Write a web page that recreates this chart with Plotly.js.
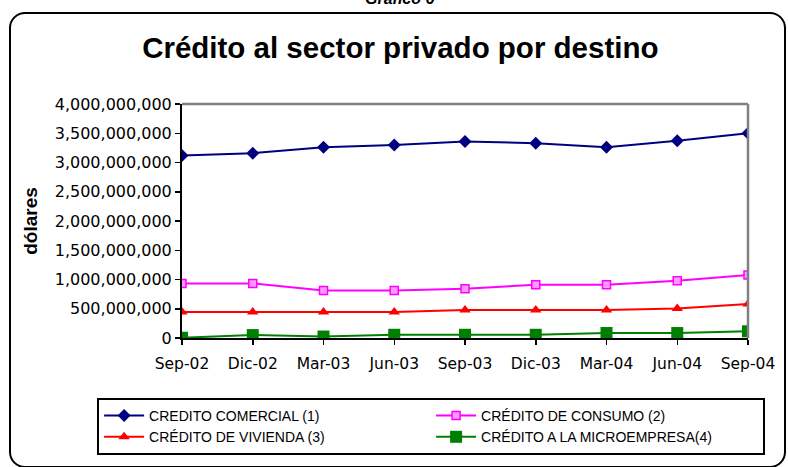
<!DOCTYPE html>
<html>
<head>
<meta charset="utf-8">
<script src="https://cdn.plot.ly/plotly-3.0.1.min.js"></script>
<style>
  html, body { margin: 0; padding: 0; background: #fff; overflow: hidden; }
  #wrap { position: relative; width: 788px; height: 467px; overflow: hidden; }
  #chart { width: 788px; height: 467px; }
  #frame { position: absolute; left: 9px; top: 12px; width: 777px; height: 456px;
           border: 2.5px solid #000; border-radius: 16px; box-sizing: border-box; pointer-events: none; }
</style>
</head>
<body>
<div id="wrap">
  <div id="chart"></div>
  <div id="frame"></div>
</div>
<script>
const categories = ["Sep-02","Dic-02","Mar-03","Jun-03","Sep-03","Dic-03","Mar-04","Jun-04","Sep-04"];
const comercial   = [3120000000, 3160000000, 3260000000, 3300000000, 3360000000, 3330000000, 3260000000, 3370000000, 3500000000];
const consumo     = [933000000, 933000000, 814000000, 814000000, 843000000, 911000000, 911000000, 979000000, 1077000000];
const vivienda    = [444000000, 444000000, 444000000, 444000000, 479000000, 479000000, 479000000, 506000000, 581000000];
const microempresa= [5000000, 50000000, 25000000, 55000000, 55000000, 55000000, 85000000, 85000000, 115000000];
const seriesNames = ["CREDITO COMERCIAL (1)", "CRÉDITO DE CONSUMO (2)", "CRÉDITO DE VIVIENDA (3)", "CRÉDITO A LA MICROEMPRESA(4)"];
const yTickVals = [0, 500000000, 1000000000, 1500000000, 2000000000, 2500000000, 3000000000, 3500000000, 4000000000];

const idx = categories.map((c, i) => i);

const traces = [
  { x: idx, y: comercial, name: seriesNames[0], type: "scatter", mode: "lines+markers",
    line: { color: "#000080", width: 2 }, marker: { symbol: "diamond", size: 10, color: "#000080" } },
  { x: idx, y: consumo, name: seriesNames[1], type: "scatter", mode: "lines+markers",
    line: { color: "#ff00ff", width: 2 }, marker: { symbol: "square", size: 8, color: "#ff99ff", line: { color: "#ff00ff", width: 1.5 } } },
  { x: idx, y: vivienda, name: seriesNames[2], type: "scatter", mode: "lines+markers",
    line: { color: "#ff0000", width: 2 }, marker: { symbol: "triangle-up", size: 10, color: "#ff0000" } },
  { x: idx, y: microempresa, name: seriesNames[3], type: "scatter", mode: "lines+markers",
    line: { color: "#008000", width: 2 }, marker: { symbol: "square", size: 12, color: "#008000" } }
];

const layout = {
  width: 788, height: 467,
  margin: { l: 182, r: 40, t: 104, b: 129 },
  paper_bgcolor: "#ffffff", plot_bgcolor: "#ffffff",
  showlegend: true,
  title: { text: "Crédito al sector privado por destino", x: 0.508, xanchor: "center", y: 0.897, yanchor: "middle",
           font: { family: "Arial, 'Liberation Sans', sans-serif", size: 29.5, color: "#000", weight: "bold" } },
  xaxis: {
    range: [0, 8], tickvals: idx, ticktext: categories,
    showgrid: false, zeroline: false, showline: true, linecolor: "#000", linewidth: 2,
    ticks: "outside", ticklen: 5, tickcolor: "#000", tickwidth: 1.5, ticklabelstandoff: 5,
    tickfont: { family: "'DejaVu Sans', Verdana, sans-serif", size: 15.5, color: "#000" },
    fixedrange: true
  },
  yaxis: {
    range: [0, 4000000000], tickvals: yTickVals, tickformat: ",d",
    showgrid: false, zeroline: false, showline: true, linecolor: "#000", linewidth: 2,
    ticks: "outside", ticklen: 5, tickcolor: "#000", tickwidth: 1.5,
    tickfont: { family: "'DejaVu Sans', Verdana, sans-serif", size: 16, color: "#000" },
    title: { text: "dólares", standoff: 12, font: { family: "Arial, 'Liberation Sans', sans-serif", size: 19, color: "#000", weight: "bold" } },
    fixedrange: true
  },
  shapes: [
    { type: "line", xref: "x domain", yref: "y domain", x0: 0, x1: 1, y0: 1, y1: 1, line: { color: "#808080", width: 2.5 } },
    { type: "line", xref: "x domain", yref: "y domain", x0: 1, x1: 1, y0: 0, y1: 1, line: { color: "#808080", width: 2.5 } }
  ],
  legend: {
    orientation: "h", x: -0.150, xanchor: "left", y: -0.2564, yanchor: "top",
    bordercolor: "#000", borderwidth: 2, bgcolor: "#fff",
    entrywidth: 277, entrywidthmode: "pixels", itemwidth: 40,
    font: { family: "Arial, 'Liberation Sans', sans-serif", size: 14, color: "#000" },
    traceorder: "normal"
  },
  annotations: [
    { text: "<b><i>Gráfico 6</i></b>", xref: "paper", yref: "paper", x: 0.385, y: 1.449, xanchor: "center", yanchor: "middle",
      showarrow: false, font: { family: "Arial, 'Liberation Sans', sans-serif", size: 16, color: "#000" } }
  ]
};

Plotly.newPlot("chart", traces, layout, { displayModeBar: false, staticPlot: true });
</script>
</body>
</html>
